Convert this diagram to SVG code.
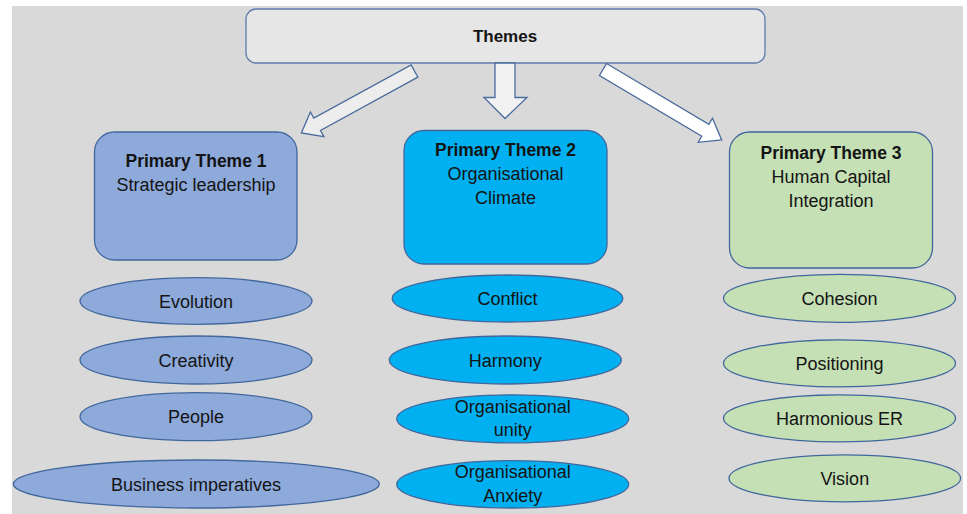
<svg xmlns="http://www.w3.org/2000/svg" width="967" height="514" viewBox="0 0 967 514">
  <style>
    text { font-family: "Liberation Sans", Arial, sans-serif; font-size: 18px; fill: #141414; text-anchor: middle; }
    .b { font-weight: bold; font-size: 17.5px; }
    .edge { stroke: #4a6b9e; stroke-width: 1.3; stroke-linejoin: miter; }
    .box, .oval { stroke: #41679c; stroke-width: 1.3; }
    .c1 { fill: #8eaadb; }
    .c2 { fill: #00b0f0; }
    .c3 { fill: #c5e0b4; }
  </style>

  <!-- backdrop -->
  <rect x="12" y="6" width="951" height="508" fill="#d9d9d9"/>

  <!-- top node -->
  <g id="themes">
    <rect x="246" y="9" width="519" height="54" rx="10" fill="#e6e6e6" stroke="#5f7bab" stroke-width="1.3"/>
    <text x="505" y="42" class="b" style="font-size:17px">Themes</text>
  </g>

  <!-- block arrows -->
  <g id="connectors">
    <polygon class="edge" fill="#ededed" transform="translate(414.5,71) rotate(151.3)"
             points="0,-7 111,-7 111,-14 129,0 111,14 111,7 0,7"/>
    <polygon class="edge" fill="#f2f2f2"
             points="495,63 515,63 515,97.5 527,97.5 505,118.5 484,97.5 495,97.5"/>
    <polygon class="edge" fill="#ffffff" transform="translate(603,69.5) rotate(30.7)"
             points="0,-7 119,-7 119,-14 138,0 119,14 119,7 0,7"/>
  </g>

  <!-- primary themes -->
  <g id="theme1">
    <rect class="box c1" x="94.5" y="132" width="202.5" height="128" rx="20"/>
    <text x="196" y="166.5" class="b">Primary Theme 1</text>
    <text x="196" y="191">Strategic leadership</text>
  </g>
  <g id="theme2">
    <rect class="box c2" x="404" y="130.5" width="203" height="133.5" rx="20"/>
    <text x="505.5" y="155.5" class="b">Primary Theme 2</text>
    <text x="505.5" y="179.5">Organisational</text>
    <text x="505.5" y="203.5">Climate</text>
  </g>
  <g id="theme3">
    <rect class="box c3" x="729.5" y="132" width="203" height="136" rx="20"/>
    <text x="831" y="158.5" class="b">Primary Theme 3</text>
    <text x="831" y="182.5">Human Capital</text>
    <text x="831" y="206.5">Integration</text>
  </g>

  <!-- sub-themes: strategic leadership -->
  <g id="evolution">
    <ellipse class="oval c1" cx="196" cy="301" rx="116" ry="23.3"/>
    <text x="196" y="307.5">Evolution</text>
  </g>
  <g id="creativity">
    <ellipse class="oval c1" cx="196" cy="360" rx="116" ry="24"/>
    <text x="196" y="366.5">Creativity</text>
  </g>
  <g id="people">
    <ellipse class="oval c1" cx="196" cy="416.7" rx="116" ry="24"/>
    <text x="196" y="423">People</text>
  </g>
  <g id="business-imperatives">
    <ellipse class="oval c1" cx="196.3" cy="484" rx="183" ry="24"/>
    <text x="196" y="490.5">Business imperatives</text>
  </g>

  <!-- sub-themes: organisational climate -->
  <g id="conflict">
    <ellipse class="oval c2" cx="507.5" cy="298.5" rx="115.3" ry="23.5"/>
    <text x="507.5" y="305">Conflict</text>
  </g>
  <g id="harmony">
    <ellipse class="oval c2" cx="505.3" cy="360" rx="116" ry="24"/>
    <text x="505.3" y="366.5">Harmony</text>
  </g>
  <g id="organisational-unity">
    <ellipse class="oval c2" cx="512.7" cy="418.8" rx="116" ry="24"/>
    <text x="512.7" y="412.5">Organisational</text>
    <text x="512.7" y="436">unity</text>
  </g>
  <g id="organisational-anxiety">
    <ellipse class="oval c2" cx="512.7" cy="484.3" rx="116" ry="23.7"/>
    <text x="512.7" y="478">Organisational</text>
    <text x="512.7" y="501.5">Anxiety</text>
  </g>

  <!-- sub-themes: human capital integration -->
  <g id="cohesion">
    <ellipse class="oval c3" cx="839.5" cy="298.3" rx="116" ry="24"/>
    <text x="839.5" y="305">Cohesion</text>
  </g>
  <g id="positioning">
    <ellipse class="oval c3" cx="839.5" cy="363.3" rx="116" ry="23.5"/>
    <text x="839.5" y="370">Positioning</text>
  </g>
  <g id="harmonious-er">
    <ellipse class="oval c3" cx="839.5" cy="418.3" rx="116" ry="23.5"/>
    <text x="839.5" y="425">Harmonious ER</text>
  </g>
  <g id="vision">
    <ellipse class="oval c3" cx="844.8" cy="478.3" rx="115.8" ry="23.5"/>
    <text x="844.8" y="485">Vision</text>
  </g>
</svg>
